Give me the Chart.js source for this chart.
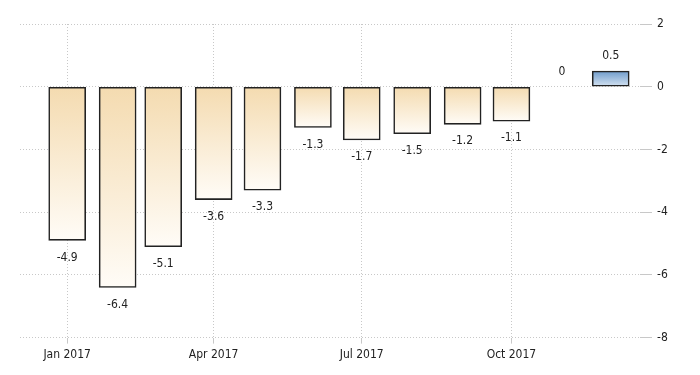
<!DOCTYPE html>
<html>
<head>
<meta charset="utf-8">
<script src="https://cdn.jsdelivr.net/npm/chart.js@4.4.0/dist/chart.umd.min.js"></script>
<style>
  html, body { margin: 0; padding: 0; background: #fff; }
  #wrap { width: 700px; height: 375px; }
</style>
</head>
<body>
<div id="wrap"><canvas id="chart"></canvas></div>
<script>
// --- data ---
const months     = ['2017-01','2017-02','2017-03','2017-04','2017-05','2017-06',
                    '2017-07','2017-08','2017-09','2017-10','2017-11','2017-12'];
const values     = [-4.9, -6.4, -5.1, -3.6, -3.3, -1.3, -1.7, -1.5, -1.2, -1.1, 0, 0.5];
const tickMonths = ['2017-01','2017-04','2017-07','2017-10'];
const tickLabels = ['Jan 2017','Apr 2017','Jul 2017','Oct 2017'];
const yTicks     = [2, 0, -2, -4, -6, -8];

const FONT = "'Liberation Sans Narrow', 'DejaVu Sans Condensed', 'Liberation Sans', Arial, sans-serif";
const DAY = 86400000;
const T0 = Date.UTC(2017, 0, 1);

// days since Jan 1 2017, so the x axis behaves like a time axis
function dayOf(m) {
  const [y, mo] = m.split('-').map(Number);
  return (Date.UTC(y, mo - 1, 1) - T0) / DAY;
}

const points = months.map((m, i) => ({ x: dayOf(m), y: values[i] }));
const tickDays = tickMonths.map(dayOf);

// per-bar vertical gradient, darker at the top
function barFill(ctx) {
  const chart = ctx.chart;
  if (!chart.chartArea || ctx.type !== 'data') return '#f5deb6';
  const v = ctx.raw.y;
  const ys = chart.scales.y;
  const a = ys.getPixelForValue(Math.max(v, 0));
  const b = ys.getPixelForValue(Math.min(v, 0));
  if (a === b) return 'rgba(0,0,0,0)';
  const g = chart.ctx.createLinearGradient(0, a, 0, b);
  if (v > 0) {
    g.addColorStop(0, '#6f9bcb');
    g.addColorStop(1, '#d6e4f2');
  } else {
    g.addColorStop(0, '#f4dbb0');
    g.addColorStop(1, '#fffcf7');
  }
  return g;
}

// value labels under negative bars, above the others
const valueLabels = {
  id: 'valueLabels',
  afterDatasetsDraw(chart) {
    const { ctx } = chart;
    const meta = chart.getDatasetMeta(0);
    ctx.save();
    ctx.font = '12px ' + FONT;
    ctx.fillStyle = '#222';
    ctx.textAlign = 'center';
    ctx.textBaseline = 'middle';
    meta.data.forEach((bar, i) => {
      const v = values[i];
      const y = v < 0 ? bar.y + 17 : bar.y - 15;
      ctx.fillText(String(v), bar.x, y);
    });
    ctx.restore();
  }
};

new Chart(document.getElementById('chart'), {
  type: 'bar',
  data: {
    datasets: [{
      data: points,
      backgroundColor: barFill,
      borderColor: '#222',
      borderWidth: c => (c.raw && c.raw.y === 0 ? 0 : 1.6),
      borderSkipped: false,
      barThickness: 37,
    }]
  },
  options: {
    responsive: true, maintainAspectRatio: false,
    animation: false,
    layout: { padding: { left: 20, top: 24, right: 0, bottom: 9 } },
    plugins: { legend: { display: false }, tooltip: { enabled: false } },
    scales: {
      x: {
        type: 'linear',
        min: -29, max: 352,
        offset: false,
        afterBuildTicks: s => { s.ticks = tickDays.map(v => ({ value: v })); },
        ticks: {
          autoSkip: false, maxRotation: 0, padding: 4,
          color: '#222', font: { family: FONT, size: 12 },
          callback: (v) => tickLabels[tickDays.indexOf(v)] || ''
        },
        grid: { color: '#c8c8c8', tickLength: 6, offset: false },
        border: { display: false, dash: [1, 2] },
      },
      y: {
        position: 'right',
        min: -8, max: 2,
        afterBuildTicks: s => { s.ticks = yTicks.map(v => ({ value: v })); },
        afterFit: s => { s.width = 60; },
        ticks: {
          padding: 5, color: '#222', font: { family: FONT, size: 12 },
          crossAlign: 'near'
        },
        grid: { color: '#c8c8c8', tickLength: 12 },
        border: { display: false, dash: [1, 2] },
      }
    }
  },
  plugins: [valueLabels]
});
</script>
</body>
</html>
